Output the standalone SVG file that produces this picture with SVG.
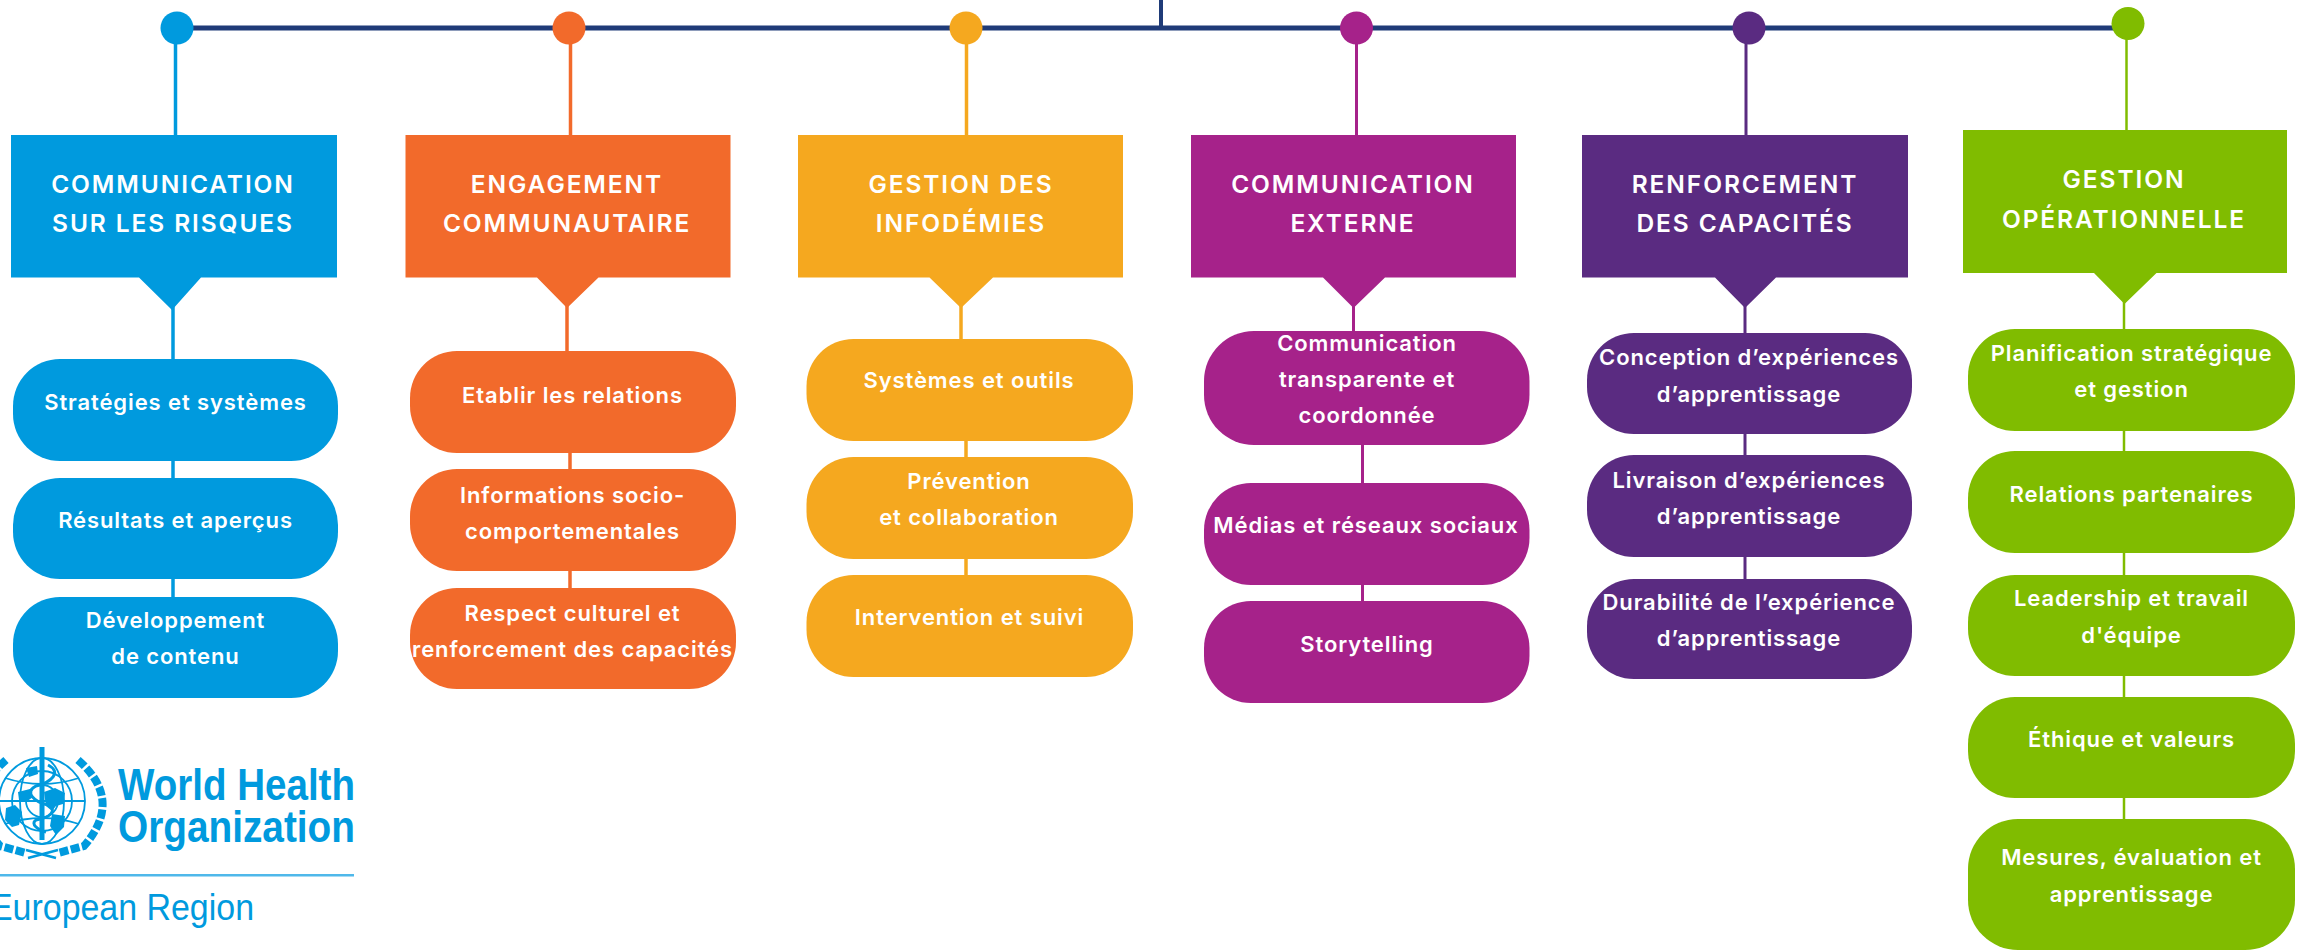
<svg xmlns="http://www.w3.org/2000/svg" width="2305" height="952" viewBox="0 0 2305 952">
<style>
text{font-family:"Inter","Liberation Sans",Arial,sans-serif;font-weight:600;fill:#fff;text-anchor:middle}
.h{font-size:24.500px;letter-spacing:1.900px}
.p{font-size:22px;letter-spacing:.9px}
.blue{fill:#009ade}.orange{fill:#f26a2b}.amber{fill:#f5a81f}.magenta{fill:#a6228a}.purple{fill:#5a2b81}.green{fill:#80bc00}
.lb{stroke:#009ade;stroke-width:3.500px}.lo{stroke:#f26a2b;stroke-width:3.500px}.la{stroke:#f5a81f;stroke-width:3.500px}.lm{stroke:#a6228a;stroke-width:3px}.lp{stroke:#5a2b81;stroke-width:3px}.lg{stroke:#80bc00;stroke-width:2.500px}
.who{font-family:"Liberation Sans",Arial,sans-serif;font-weight:700;fill:#009ade;text-anchor:start;letter-spacing:0}
.em{fill:none;stroke:#009ade;stroke-width:1.800}
.leaf{fill:none;stroke:#009ade;stroke-width:8;stroke-dasharray:9 2.500}
.bl{fill:#009ade}
</style>
<rect width="2305" height="952" fill="#fff"/>
<g id="connectors">
<line x1="177" y1="28" x2="2128" y2="28" stroke="#1f3b78" stroke-width="5"/>
<line x1="1161" y1="0" x2="1161" y2="26" stroke="#1f3b78" stroke-width="4"/>
<g class="lb"><line x1="175.500" y1="40" x2="175.500" y2="136"/><line x1="173" y1="305" x2="173" y2="360"/><line x1="173" y1="460" x2="173" y2="479"/><line x1="173" y1="578" x2="173" y2="598"/></g>
<g class="lo"><line x1="570.500" y1="40" x2="570.500" y2="136"/><line x1="567" y1="305" x2="567" y2="352"/><line x1="570" y1="452" x2="570" y2="470"/><line x1="570" y1="570" x2="570" y2="589"/></g>
<g class="la"><line x1="966.500" y1="40" x2="966.500" y2="136"/><line x1="961" y1="305" x2="961" y2="340"/><line x1="966" y1="440" x2="966" y2="458"/><line x1="966" y1="558" x2="966" y2="577"/></g>
<g class="lm"><line x1="1356.500" y1="40" x2="1356.500" y2="136"/><line x1="1353.500" y1="305" x2="1353.500" y2="332"/><line x1="1362.500" y1="444" x2="1362.500" y2="484"/><line x1="1362.500" y1="584" x2="1362.500" y2="602"/></g>
<g class="lp"><line x1="1746" y1="40" x2="1746" y2="136"/><line x1="1745" y1="305" x2="1745" y2="334"/><line x1="1745" y1="433" x2="1745" y2="456"/><line x1="1745" y1="556" x2="1745" y2="580"/></g>
<g class="lg"><line x1="2126.500" y1="35" x2="2126.500" y2="131"/><line x1="2124" y1="300" x2="2124" y2="330"/><line x1="2124" y1="430" x2="2124" y2="452"/><line x1="2124" y1="552" x2="2124" y2="576"/><line x1="2124" y1="675" x2="2124" y2="698"/><line x1="2124" y1="797" x2="2124" y2="820"/></g>
</g>
<g id="dots">
<circle class="blue" cx="177" cy="28" r="16.500"/><circle class="orange" cx="569" cy="28" r="16.500"/><circle class="amber" cx="966" cy="28" r="16.500"/><circle class="magenta" cx="1356.500" cy="28" r="16.500"/><circle class="purple" cx="1749" cy="28" r="16.500"/><circle class="green" cx="2128" cy="23.500" r="16.500"/>
</g>
<g id="head-1" class="blue"><path d="M11 135H337V277.500H201L172 310L139 277.500H11Z"/><text class="h" x="173" y="193">COMMUNICATION</text><text class="h" x="173" y="232">SUR LES RISQUES</text></g>
<g id="head-2" class="orange"><path d="M405.500 135H730.500V277.500H598.500L567 308L537 277.500H405.500Z"/><text class="h" x="567" y="193">ENGAGEMENT</text><text class="h" x="567" y="232">COMMUNAUTAIRE</text></g>
<g id="head-3" class="amber"><path d="M798 135H1123V277.500H993L961 308L929.500 277.500H798Z"/><text class="h" x="961" y="193">GESTION DES</text><text class="h" x="961" y="232">INFODÉMIES</text></g>
<g id="head-4" class="magenta"><path d="M1191 135H1516V277.500H1385L1353.500 308L1323 277.500H1191Z"/><text class="h" x="1353" y="193">COMMUNICATION</text><text class="h" x="1353" y="232">EXTERNE</text></g>
<g id="head-5" class="purple"><path d="M1582 135H1908V277.500H1776L1745 308L1715 277.500H1582Z"/><text class="h" x="1745" y="193">RENFORCEMENT</text><text class="h" x="1745" y="232">DES CAPACITÉS</text></g>
<g id="head-6" class="green"><path d="M1963 130H2287V273H2156.500L2124.500 304L2094 273H1963Z"/><text class="h" x="2124" y="188">GESTION</text><text class="h" x="2124" y="228">OPÉRATIONNELLE</text></g>

<g id="c1-1" class="blue"><rect x="13" y="359" width="325" height="102" rx="47" ry="47"/><text class="p" x="175.500" y="410">Stratégies et systèmes</text></g>
<g id="c1-2" class="blue"><rect x="13" y="478" width="325" height="101" rx="47" ry="47"/><text class="p" x="175.500" y="528">Résultats et aperçus</text></g>
<g id="c1-3" class="blue"><rect x="13" y="597" width="325" height="101" rx="47" ry="47"/><text class="p" x="175.500" y="628">Développement</text><text class="p" x="175.500" y="664">de contenu</text></g>

<g id="c2-1" class="orange"><rect x="410" y="351" width="326" height="102" rx="47" ry="47"/><text class="p" x="572.500" y="403">Etablir les relations</text></g>
<g id="c2-2" class="orange"><rect x="410" y="469" width="326" height="102" rx="47" ry="47"/><text class="p" x="572.500" y="503">Informations socio-</text><text class="p" x="572.500" y="539">comportementales</text></g>
<g id="c2-3" class="orange"><rect x="410" y="588" width="326" height="101" rx="47" ry="47"/><text class="p" x="572.500" y="621">Respect culturel et</text><text class="p" x="572.500" y="657">renforcement des capacités</text></g>

<g id="c3-1" class="amber"><rect x="806.500" y="339" width="326.500" height="102" rx="47" ry="47"/><text class="p" x="969" y="388">Systèmes et outils</text></g>
<g id="c3-2" class="amber"><rect x="806.500" y="457" width="326.500" height="102" rx="47" ry="47"/><text class="p" x="969" y="489">Prévention</text><text class="p" x="969" y="525">et collaboration</text></g>
<g id="c3-3" class="amber"><rect x="806.500" y="575" width="326.500" height="102" rx="47" ry="47"/><text class="p" x="969.500" y="625">Intervention et suivi</text></g>

<g id="c4-1" class="magenta"><rect x="1204" y="331" width="325.500" height="114" rx="50" ry="50"/><text class="p" x="1367" y="351">Communication</text><text class="p" x="1367" y="387">transparente et</text><text class="p" x="1367" y="423">coordonnée</text></g>
<g id="c4-2" class="magenta"><rect x="1204" y="483" width="325.500" height="102" rx="47" ry="47"/><text class="p" x="1366" y="533">Médias et réseaux sociaux</text></g>
<g id="c4-3" class="magenta"><rect x="1204" y="601" width="325.500" height="102" rx="47" ry="47"/><text class="p" x="1367" y="652">Storytelling</text></g>

<g id="c5-1" class="purple"><rect x="1587" y="333" width="325" height="101" rx="47" ry="47"/><text class="p" x="1749" y="365">Conception d’expériences</text><text class="p" x="1749" y="402">d’apprentissage</text></g>
<g id="c5-2" class="purple"><rect x="1587" y="455" width="325" height="102" rx="47" ry="47"/><text class="p" x="1749" y="488">Livraison d’expériences</text><text class="p" x="1749" y="524">d’apprentissage</text></g>
<g id="c5-3" class="purple"><rect x="1587" y="579" width="325" height="100" rx="47" ry="47"/><text class="p" x="1749" y="610">Durabilité de l’expérience</text><text class="p" x="1749" y="646">d’apprentissage</text></g>

<g id="c6-1" class="green"><rect x="1968" y="329" width="327" height="102" rx="47" ry="47"/><text class="p" x="2131.500" y="361">Planification stratégique</text><text class="p" x="2131.500" y="397">et gestion</text></g>
<g id="c6-2" class="green"><rect x="1968" y="451" width="327" height="102" rx="47" ry="47"/><text class="p" x="2131.500" y="502">Relations partenaires</text></g>
<g id="c6-3" class="green"><rect x="1968" y="575" width="327" height="101" rx="47" ry="47"/><text class="p" x="2131.500" y="606">Leadership et travail</text><text class="p" x="2131.500" y="643">d'équipe</text></g>
<g id="c6-4" class="green"><rect x="1968" y="697" width="327" height="101" rx="47" ry="47"/><text class="p" x="2131.500" y="747">Éthique et valeurs</text></g>
<g id="c6-5" class="green"><rect x="1968" y="819" width="327" height="131" rx="50" ry="50"/><text class="p" x="2131.500" y="865">Mesures, évaluation et</text><text class="p" x="2131.500" y="902">apprentissage</text></g>

<g id="logo">
<g class="em"><circle cx="42" cy="801" r="43"/><circle cx="42" cy="801" r="30"/><circle cx="42" cy="801" r="16"/><ellipse cx="42" cy="801" rx="22" ry="43"/><path d="M0 801H85M5 778Q42 790 79 778M5 824Q42 812 79 824"/></g>
<path class="leaf" d="M78 760Q124 800 84 846L58 853"/><path class="leaf" d="M6 760Q-40 800 0 846L26 853"/>
<path class="em" d="M28 858L58 850M56 858L26 850" style="stroke-width:2.500"/>
<rect class="bl" x="39.500" y="747" width="5" height="93"/>
<path class="em" d="M48 765C62 772 52 782 36 786C24 792 34 802 48 805C58 810 50 818 36 820C30 824 38 830 46 832" style="stroke-width:3"/>
<path class="bl" d="M44 792L55 788L65 793L63 804L56 806L52 811L46 806ZM52 814L65 816L64 827L56 835L50 826ZM6 808L15 805L22 812L19 825L12 827L5 820ZM18 792L30 789L33 797L26 802L19 800ZM26 768L37 766L38 774L29 777Z"/>
<text class="who" x="118" y="800" font-size="44" textLength="237" lengthAdjust="spacingAndGlyphs">World Health</text>
<text class="who" x="118" y="842" font-size="44" textLength="237" lengthAdjust="spacingAndGlyphs">Organization</text>
<rect x="0" y="874" width="354" height="2.500" fill="#4fb8ea"/>
<text class="who" x="-10" y="920" font-size="37" style="font-weight:400" textLength="264" lengthAdjust="spacingAndGlyphs">European Region</text>
</g>
</svg>
